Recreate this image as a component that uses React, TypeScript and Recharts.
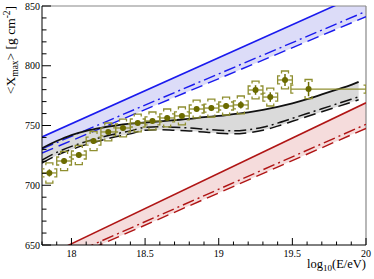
import {
  ComposedChart,
  Area,
  Line,
  Scatter,
  XAxis,
  YAxis,
  ErrorBar,
  ReferenceLine,
} from "recharts";

// measured <Xmax> per energy bin
const energy = [17.85, 17.95, 18.05, 18.15, 18.25, 18.35, 18.45, 18.55, 18.65, 18.75, 18.85, 18.95, 19.05, 19.15, 19.25, 19.35, 19.45, 19.61];
const xmax = [710.3, 720.3, 725.3, 737, 744.6, 747.9, 752.1, 753.8, 756.3, 758, 763.8, 764.6, 766.3, 767.2, 779.7, 773.8, 788.1, 780.5];
const statErr = [3, 2.5, 2.5, 2.5, 2, 2, 2, 2, 2, 2, 2, 2.5, 2.5, 3, 4, 4, 5, 6];
const sysErr = [8.5, 8, 8, 8, 7.5, 7.5, 7.5, 7.5, 7.5, 7.5, 7.5, 7.5, 7.5, 7.5, 7.5, 7.5, 7.5, 8];
const binLow = [0.05, 0.05, 0.05, 0.05, 0.05, 0.05, 0.05, 0.05, 0.05, 0.05, 0.05, 0.05, 0.05, 0.05, 0.05, 0.05, 0.05, 0.12];
const binHigh = [0.05, 0.05, 0.05, 0.05, 0.05, 0.05, 0.05, 0.05, 0.05, 0.05, 0.05, 0.05, 0.05, 0.05, 0.05, 0.05, 0.05, 0.39];

// blue band
const blueE = [17.8, 20];
const blueSolid = [740.4, 862];
const blueDashDot = [730.5, 845.5];
const blueDash = [727, 841];

// red band
const redE = [17.8, 20];
const redSolid = [639.2, 769];
const redDashDot = [631.5, 751];
const redDash = [628.8, 747.6];

// black / grey band
const blackE = [17.8, 17.9, 18, 18.1, 18.2, 18.3, 18.4, 18.5, 18.6, 18.7, 18.8, 18.9, 19, 19.1, 19.2, 19.3, 19.4, 19.5, 19.6, 19.7, 19.8, 19.9, 19.95];
const blackSolid = [731, 737, 742, 745.5, 748, 750, 751.5, 752.5, 753.5, 754.5, 755.5, 757, 758, 759.5, 761, 763, 765.5, 768.5, 772, 776, 780, 784, 786.5];
const blackDashDot = [721, 727.5, 732.5, 736.5, 740, 743, 745.5, 748.5, 749, 748.5, 748, 747, 746, 745.5, 746.5, 748.5, 752, 756, 760, 764, 768, 772, 774];
const blackDash = [718.6, 725, 730, 734, 737.5, 740.5, 743, 746, 746.5, 746, 745.5, 744.5, 743.5, 743, 744, 746, 749.5, 753.5, 757.5, 761.5, 765.5, 769.5, 771.5];

const xTicks = [17.8, 17.9, 18, 18.1, 18.2, 18.3, 18.4, 18.5, 18.6, 18.7, 18.8, 18.9, 19, 19.1, 19.2, 19.3, 19.4, 19.5, 19.6, 19.7, 19.8, 19.9, 20];
const yTicks = [650, 660, 670, 680, 690, 700, 710, 720, 730, 740, 750, 760, 770, 780, 790, 800, 810, 820, 830, 840, 850];

const band = (E: number[], solid: number[], dashDot: number[], dash: number[]) =>
  E.map((e, i) => ({ E: e, solid: solid[i], dashDot: dashDot[i], dash: dash[i], range: [dash[i], solid[i]] }));

const blueData = band(blueE, blueSolid, blueDashDot, blueDash);
const redData = band(redE, redSolid, redDashDot, redDash);
const blackData = band(blackE, blackSolid, blackDashDot, blackDash);

const points = energy.map((E, i) => ({ E, Y: xmax[i], stat: statErr[i], bin: [binLow[i], binHigh[i]] }));
const sysUp = energy.map((E, i) => ({ E, Y: xmax[i] + sysErr[i] }));
const sysDown = energy.map((E, i) => ({ E, Y: xmax[i] - sysErr[i] }));
const edgeL = energy.map((E, i) => ({ E: E - binLow[i], Y: xmax[i] }));
const edgeR = energy.map((E, i) => ({ E: E + binHigh[i], Y: xmax[i] }));

const OLIVE = "#6b6b00";
const OLIVE_LT = "#8f8f30";
const FONT = "'Liberation Serif', 'DejaVu Serif', serif";

const bracket = (kind: string) => (p: any) => {
  const { cx, cy } = p;
  let d = "";
  if (kind === "top") d = `M${cx - 3.5},${cy + 2.5}V${cy}H${cx + 3.5}V${cy + 2.5}`;
  if (kind === "bot") d = `M${cx - 3.5},${cy - 2.5}V${cy}H${cx + 3.5}V${cy - 2.5}`;
  if (kind === "left") d = `M${cx + 2.5},${cy - 4}H${cx}V${cy + 4}H${cx + 2.5}`;
  if (kind === "right") d = `M${cx - 2.5},${cy - 4}H${cx}V${cy + 4}H${cx - 2.5}`;
  return <path d={d} fill="none" stroke={OLIVE_LT} strokeWidth={1.3} />;
};

const Dot = (p: any) => <circle cx={p.cx} cy={p.cy} r={3} fill={OLIVE} />;

const YTick = (p: any) => {
  const { x, y, payload } = p;
  const major = payload.value % 50 === 0;
  return (
    <g>
      <line x1={x} x2={x + (major ? 9 : 4.5)} y1={y} y2={y} stroke="#000" strokeWidth={1} />
      {major && (
        <text x={x - 2} y={y} dy="0.35em" textAnchor="end" fontFamily={FONT} fontSize={10} fill="#000">
          {payload.value}
        </text>
      )}
    </g>
  );
};

const XTick = (p: any) => {
  const { x, y, payload } = p;
  const major = Number.isInteger(payload.value * 2);
  return (
    <g>
      <line x1={x} x2={x} y1={y} y2={y - (major ? 7 : 3.5)} stroke="#000" strokeWidth={1} />
      {major && (
        <text x={x} y={y + 12} textAnchor="middle" fontFamily={FONT} fontSize={10} fill="#000">
          {payload.value}
        </text>
      )}
    </g>
  );
};

const YLabel = () => (
  <text transform="translate(15,50) rotate(-90)" textAnchor="middle" fontFamily={FONT} fontSize={13.5} fill="#000">
    {"<X"}
    <tspan fontSize={9.5} dy={3}>max</tspan>
    <tspan dy={-3}>{"> [g cm"}</tspan>
    <tspan fontSize={9.5} dy={-5}>-2</tspan>
    <tspan dy={5}>]</tspan>
  </text>
);

const XLabel = () => (
  <text x={366} y={268} textAnchor="end" fontFamily={FONT} fontSize={12.5} fill="#000">
    log
    <tspan fontSize={9} dy={3}>10</tspan>
    <tspan dy={-3}>(E/eV)</tspan>
  </text>
);

export default function App() {
  return (
    <div style={{ position: "absolute", left: 0, top: 0, background: "#fff" }}>
      <ComposedChart width={374} height={279} margin={{ top: 6, right: 8, bottom: 0, left: 0 }}>
        <XAxis
          dataKey="E"
          type="number"
          domain={[17.8, 20]}
          allowDataOverflow
          ticks={xTicks}
          interval={0}
          tick={<XTick />}
          tickLine={false}
          tickSize={0}
          tickMargin={0}
          height={34}
          axisLine={{ stroke: "#000" }}
          label={XLabel}
        />
        <YAxis
          type="number"
          domain={[650, 850]}
          allowDataOverflow
          ticks={yTicks}
          interval={0}
          tick={<YTick />}
          tickLine={false}
          tickSize={0}
          tickMargin={0}
          width={42}
          axisLine={{ stroke: "#000" }}
          label={YLabel}
        />
        <ReferenceLine y={850} stroke="#888" strokeWidth={1.2} />
        <ReferenceLine x={20} stroke="#888" strokeWidth={1.2} />

        {/* model bands */}
        <Area data={blueData} dataKey="range" type="linear" fill="#dcdcf8" fillOpacity={1} stroke="none" isAnimationActive={false} />
        <Area data={redData} dataKey="range" type="linear" fill="#f5dcdc" fillOpacity={1} stroke="none" isAnimationActive={false} />
        <Area data={blackData} dataKey="range" type="monotone" fill="#dadada" fillOpacity={1} stroke="none" isAnimationActive={false} />

        <Line data={blueData} dataKey="solid" type="linear" stroke="#1a1aee" strokeWidth={1.6} dot={false} isAnimationActive={false} />
        <Line data={blueData} dataKey="dashDot" type="linear" stroke="#1a1aee" strokeWidth={1.4} strokeDasharray="12 4 2 4" dot={false} isAnimationActive={false} />
        <Line data={blueData} dataKey="dash" type="linear" stroke="#1a1aee" strokeWidth={1.4} strokeDasharray="12 6" dot={false} isAnimationActive={false} />

        <Line data={redData} dataKey="solid" type="linear" stroke="#b01515" strokeWidth={1.5} dot={false} isAnimationActive={false} />
        <Line data={redData} dataKey="dashDot" type="linear" stroke="#b01515" strokeWidth={1.4} strokeDasharray="12 4 2 4" dot={false} isAnimationActive={false} />
        <Line data={redData} dataKey="dash" type="linear" stroke="#b01515" strokeWidth={1.4} strokeDasharray="12 6" dot={false} isAnimationActive={false} />

        <Line data={blackData} dataKey="solid" type="monotone" stroke="#111" strokeWidth={1.8} dot={false} isAnimationActive={false} />
        <Line data={blackData} dataKey="dashDot" type="monotone" stroke="#111" strokeWidth={1.5} strokeDasharray="12 4 2 4" dot={false} isAnimationActive={false} />
        <Line data={blackData} dataKey="dash" type="monotone" stroke="#111" strokeWidth={1.5} strokeDasharray="12 6" dot={false} isAnimationActive={false} />

        {/* systematic brackets and bin edges */}
        <Scatter data={sysUp} dataKey="Y" shape={bracket("top")} isAnimationActive={false} />
        <Scatter data={sysDown} dataKey="Y" shape={bracket("bot")} isAnimationActive={false} />
        <Scatter data={edgeL} dataKey="Y" shape={bracket("left")} isAnimationActive={false} />
        <Scatter data={edgeR} dataKey="Y" shape={bracket("right")} isAnimationActive={false} />

        {/* data points */}
        <Scatter data={points} dataKey="Y" shape={Dot} isAnimationActive={false}>
          <ErrorBar dataKey="bin" direction="x" width={0} stroke={OLIVE_LT} strokeWidth={1.3} />
          <ErrorBar dataKey="stat" direction="y" width={0} stroke={OLIVE} strokeWidth={1.5} />
        </Scatter>
      </ComposedChart>
    </div>
  );
}
